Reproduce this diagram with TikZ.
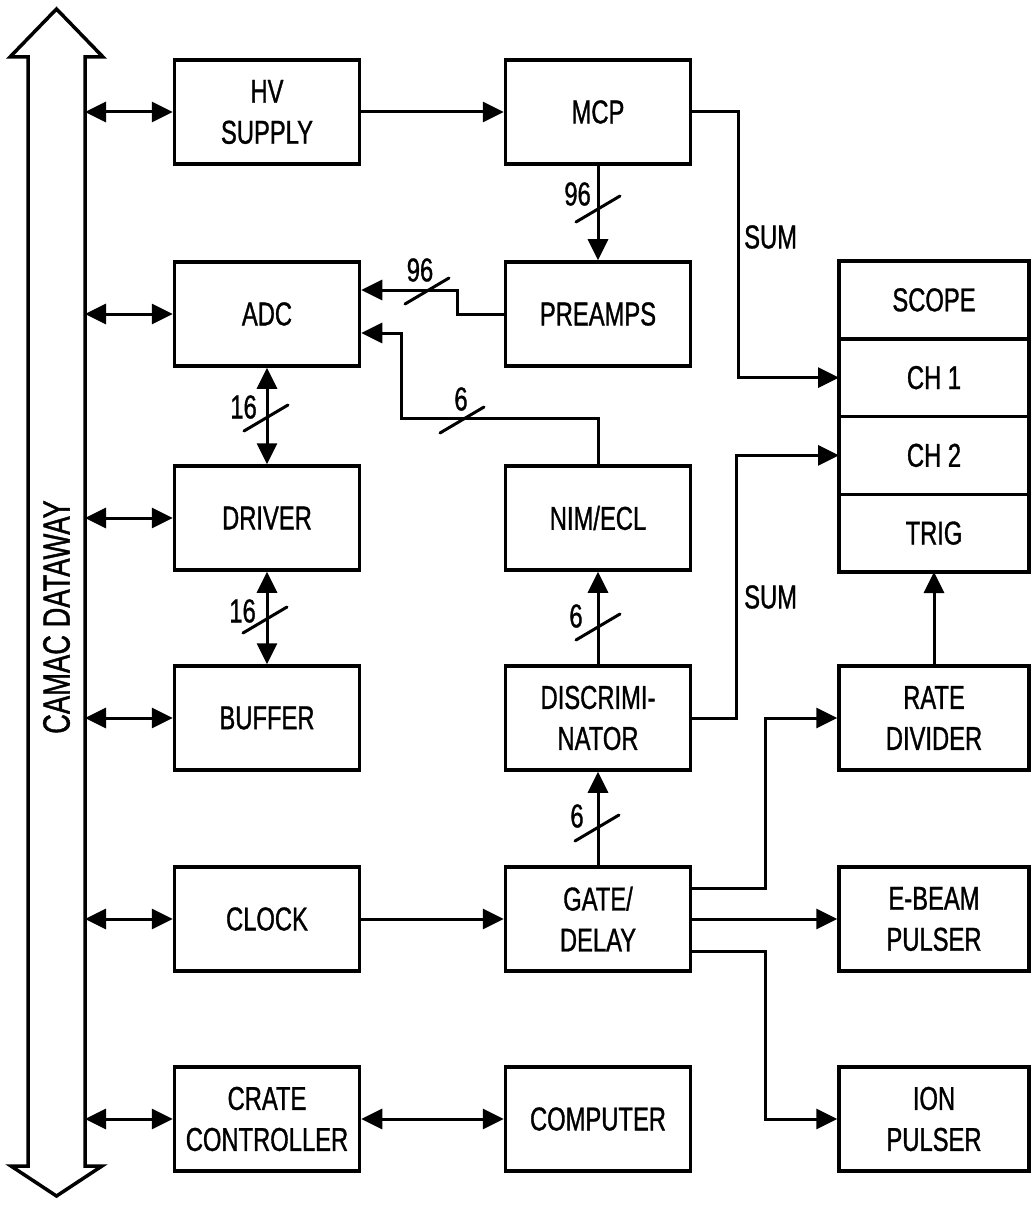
\documentclass[tikz,border=0pt]{standalone}
\usepackage{fontspec}
\setmainfont{Liberation Sans}[FakeStretch=0.72, FakeBold=1]
\usetikzlibrary{arrows.meta,positioning}

\tikzset{
  blk/.style={draw, line width=3.5pt, minimum width=185pt, minimum height=104pt, inner sep=0pt, align=center},
  cell/.style={draw, line width=3.5pt, minimum width=190pt, minimum height=77.75pt, inner sep=0pt, outer sep=0pt},
  sig/.style={line width=3pt, -{Triangle[length=21pt,width=20pt]}},
  bidir/.style={line width=3pt, {Triangle[length=21pt,width=20pt]}-{Triangle[length=21pt,width=20pt]}},
  slash/.style={line width=3pt, line cap=round},
  lbl/.style={inner sep=0pt}
}

\begin{document}
\begin{tikzpicture}[x=1pt, y=-1pt, every node/.style={font=\fontsize{33}{41}\selectfont}]
\useasboundingbox (0,0) rectangle (1031,1206);

% dataway
\draw[line width=3.5pt, line join=miter] (28,57) -- (10,57) -- (56.5,9) -- (103,57) -- (85,57)
  -- (85,1166) -- (102,1166) -- (56.5,1196) -- (11,1166) -- (28,1166) -- cycle;
\node[rotate=90, font=\fontsize{38}{44}\selectfont] (camac) at (56.5,617) {CAMAC DATAWAY};
\coordinate (bus) at (85,0);

% left column
\node[blk] (hv) at (267,112) {HV\\SUPPLY};
\node[blk] (adc) at (267,314) {ADC};
\node[blk] (drv) at (267,518) {DRIVER};
\node[blk] (buf) at (267,718) {BUFFER};
\node[blk] (clk) at (267,919) {CLOCK};
\node[blk] (crate) at (267,1119) {CRATE\\CONTROLLER};

% middle column
\node[blk] (mcp) at (598,112) {MCP};
\node[blk] (pre) at (598,314) {PREAMPS};
\node[blk] (nim) at (598,518) {NIM/ECL};
\node[blk] (disc) at (598,718) {DISCRIMI-\\NATOR};
\node[blk] (gate) at (598,919) {GATE/\\DELAY};
\node[blk] (comp) at (598,1119) {COMPUTER};

% right column
\node[cell] (scope) at (934,299.9) {SCOPE};
\node[cell, below=0pt of scope] (ch1) {CH 1};
\node[cell, below=0pt of ch1] (ch2) {CH 2};
\node[cell, below=0pt of ch2] (trig) {TRIG};
\node[blk, minimum width=190pt] (rate) at (934,718) {RATE\\DIVIDER};
\node[blk, minimum width=190pt] (ebeam) at (934,919) {E-BEAM\\PULSER};
\node[blk, minimum width=190pt] (ion) at (934,1119) {ION\\PULSER};

\foreach \n in {hv,adc,drv,buf,clk,crate}
  \draw[bidir] (bus |- \n.west) -- (\n.west);

\draw[sig] (hv.east) -- (mcp.west);
\draw[sig] (mcp.south) -- (pre.north);
\draw[sig] (mcp.east) -- ++(46,0) |- (ch1.west);
\draw[sig] (pre.west) -- ++(-46,0) |- ([yshift=24pt]adc.east);
\draw[sig] (nim.north) |- ++(-197,-46) |- ([yshift=-19pt]adc.east);
\draw[bidir] (adc.south) -- (drv.north);
\draw[bidir] (drv.south) -- (buf.north);
\draw[sig] (disc.north) -- (nim.south);
\draw[sig] (disc.east) -- ++(44,0) |- (ch2.west);
\draw[sig] (rate.north) -- (trig.south);
\draw[sig] (gate.north) -- (disc.south);
\draw[sig] (clk.east) -- (gate.west);
\draw[sig] ([yshift=31pt]gate.east) -- ++(73,0) |- (rate.west);
\draw[sig] (gate.east) -- (ebeam.west);
\draw[sig] ([yshift=-32pt]gate.east) -- ++(73,0) |- (ion.west);
\draw[bidir] (crate.east) -- (comp.west);

% bus width marks
\foreach \x/\y in {598/209, 427/291, 462/420, 266/418, 265/620, 598/627, 597/828}
  \draw[slash] (\x,\y) ++(-22,13) -- ++(44,-26);

\node[lbl, anchor=east] (w1) at (591,194) {96};
\node[lbl] (w2) at (420,270) {96};
\node[lbl] (w3) at (461,399) {6};
\node[lbl, anchor=east] (w4) at (257,407) {16};
\node[lbl, anchor=east] (w5) at (256,611) {16};
\node[lbl] (w6) at (576,616) {6};
\node[lbl] (w7) at (577,816) {6};
\node[lbl, anchor=west] (sum1) at (744,237) {SUM};
\node[lbl, anchor=west] (sum2) at (744,597) {SUM};
\end{tikzpicture}
\end{document}
